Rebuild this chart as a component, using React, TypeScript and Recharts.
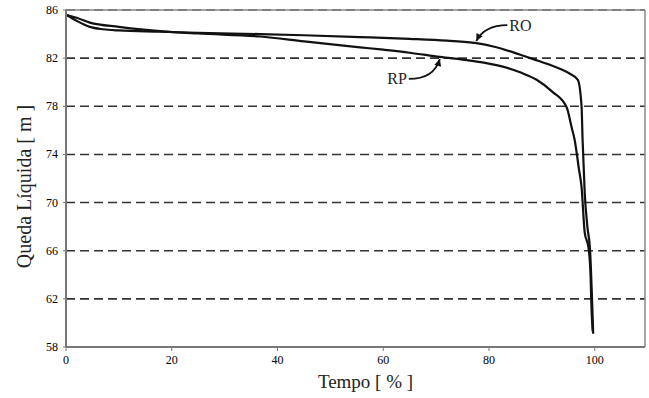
import {
  LineChart,
  Line,
  XAxis,
  YAxis,
  CartesianGrid,
  ReferenceLine,
  ReferenceDot,
  Label,
} from "recharts";

// Curva RO (x = tempo %, y = queda liquida m)
const roTempo = [0, 2, 4.5, 7, 10, 17.8, 25, 36.7, 45, 55.6, 65, 72, 77.6, 81, 85.8, 88.5, 91.5, 93.5, 95.3, 96.8, 97.5, 97.7, 98.1, 98.6, 99.1, 99.7];
const roQueda = [85.6, 85.1, 84.6, 84.4, 84.3, 84.2, 84.1, 84.0, 83.9, 83.75, 83.6, 83.45, 83.25, 82.95, 82.3, 81.9, 81.45, 81.1, 80.7, 80.2, 78.0, 75.2, 70.8, 68.0, 66.1, 59.1];

// Curva RP
const rpTempo = [0, 2, 4.5, 10, 17.8, 25, 36.7, 45, 55.6, 60, 65, 70.7, 76.4, 82.6, 86, 89, 92, 94.7, 95.6, 96.2, 97, 97.5, 98.1, 98.8, 99.2, 99.4, 99.6];
const rpQueda = [85.6, 85.35, 84.95, 84.6, 84.25, 84.05, 83.8, 83.4, 82.9, 82.7, 82.45, 82.1, 81.8, 81.3, 80.8, 80.2, 79.2, 77.9, 76.3, 75.2, 72.8, 71.3, 67.5, 66.3, 64.0, 61.0, 59.3];

const xTicks = [0, 20, 40, 60, 80, 100];
const yTicks = [58, 62, 66, 70, 74, 78, 82, 86];

const roData = roTempo.map((t, i) => ({ t, q: roQueda[i] }));
const rpData = rpTempo.map((t, i) => ({ t, q: rpQueda[i] }));

const FONT = "'Liberation Serif', 'Times New Roman', serif";

const XTick = ({ x, y, payload }: any) => (
  <text x={x} y={y + 11} textAnchor="middle" fontFamily={FONT} fontSize={12} fill="#000">
    {payload.value}
  </text>
);

const YTick = ({ x, y, payload }: any) => (
  <text x={x} y={y + 4} textAnchor="end" fontFamily={FONT} fontSize={12} fill="#000">
    {payload.value}
  </text>
);

const YTitle = ({ viewBox }: any) => {
  const cx = viewBox.x + 24;
  const cy = viewBox.y + viewBox.height / 2 + 8;
  return (
    <text
      x={cx}
      y={cy}
      transform={`rotate(-90 ${cx} ${cy})`}
      textAnchor="middle"
      dominantBaseline="central"
      fontFamily={FONT}
      fontSize={20}
      fill="#222"
    >
      Queda Líquida  [ m ]
    </text>
  );
};

const XTitle = ({ viewBox }: any) => {
  const cx = viewBox.x + viewBox.width / 2 + 10;
  return (
    <text
      x={cx}
      y={viewBox.y + 41}
      textAnchor="middle"
      fontFamily={FONT}
      fontSize={19}
      fill="#222"
    >
      Tempo  [ % ]
    </text>
  );
};

// arrow + text annotation, drawn relative to the arrowhead point
const Callout = ({ cx, cy, text, dx, dy, c1x, c1y }: any) => {
  const sx = cx + dx;
  const sy = cy + dy;
  const ang = Math.atan2(cy - (cy + c1y), cx - (cx + c1x));
  const a1 = ang + 0.45;
  const a2 = ang - 0.45;
  const L = 8;
  return (
    <g>
      <path
        d={`M${sx},${sy} Q${cx + c1x},${cy + c1y} ${cx},${cy}`}
        fill="none"
        stroke="#111"
        strokeWidth={1.8}
      />
      <path
        d={`M${cx},${cy} L${cx - L * Math.cos(a1)},${cy - L * Math.sin(a1)} L${cx - L * Math.cos(a2)},${cy - L * Math.sin(a2)} Z`}
        fill="#111"
      />
      <text
        x={dx > 0 ? sx + 2 : sx - 2}
        y={sy}
        textAnchor={dx > 0 ? "start" : "end"}
        dominantBaseline="central"
        fontFamily={FONT}
        fontSize={16}
        fill="#222"
      >
        {text}
      </text>
    </g>
  );
};

export default function App() {
  return (
    <div style={{ position: "absolute", left: 0, top: 0, background: "#fff" }}>
      <LineChart
        width={649}
        height={398}
        margin={{ top: 10, right: 4, bottom: 0, left: 0 }}
      >
        <CartesianGrid
          horizontal
          vertical={false}
          stroke="#333"
          strokeWidth={1.6}
          strokeDasharray="9 5"
        />
        <XAxis
          type="number"
          dataKey="t"
          domain={[0, 109.5]}
          ticks={xTicks}
          height={51}
          allowDataOverflow
          tick={<XTick />}
          tickSize={4}
          tickLine={{ stroke: "#777" }}
          axisLine={{ stroke: "#777", strokeWidth: 2 }}
          label={<Label content={XTitle} />}
        />
        <YAxis
          type="number"
          dataKey="q"
          domain={[58, 86]}
          ticks={yTicks}
          width={66}
          allowDataOverflow
          tick={<YTick />}
          tickSize={3}
          tickMargin={5}
          tickLine={{ stroke: "#777" }}
          axisLine={{ stroke: "#777", strokeWidth: 2 }}
          label={<Label content={YTitle} />}
        />
        <ReferenceLine y={86} stroke="#888" strokeWidth={1.5} />
        <ReferenceLine x={109.5} stroke="#888" strokeWidth={1.5} />
        <Line
          data={roData}
          dataKey="q"
          type="monotone"
          stroke="#111"
          strokeWidth={2.2}
          dot={false}
          isAnimationActive={false}
        />
        <Line
          data={rpData}
          dataKey="q"
          type="monotone"
          stroke="#111"
          strokeWidth={2.2}
          dot={false}
          isAnimationActive={false}
        />
        <ReferenceDot
          x={77.6}
          y={83.25}
          r={0}
          shape={(p: any) => (
            <Callout cx={p.cx} cy={p.cy - 2} text="RO" dx={31} dy={-16} c1x={8} c1y={-16} />
          )}
        />
        <ReferenceDot
          x={70.7}
          y={82.1}
          r={0}
          shape={(p: any) => (
            <Callout cx={p.cx} cy={p.cy + 2} text="RP" dx={-31} dy={20} c1x={-6} c1y={20} />
          )}
        />
      </LineChart>
    </div>
  );
}
